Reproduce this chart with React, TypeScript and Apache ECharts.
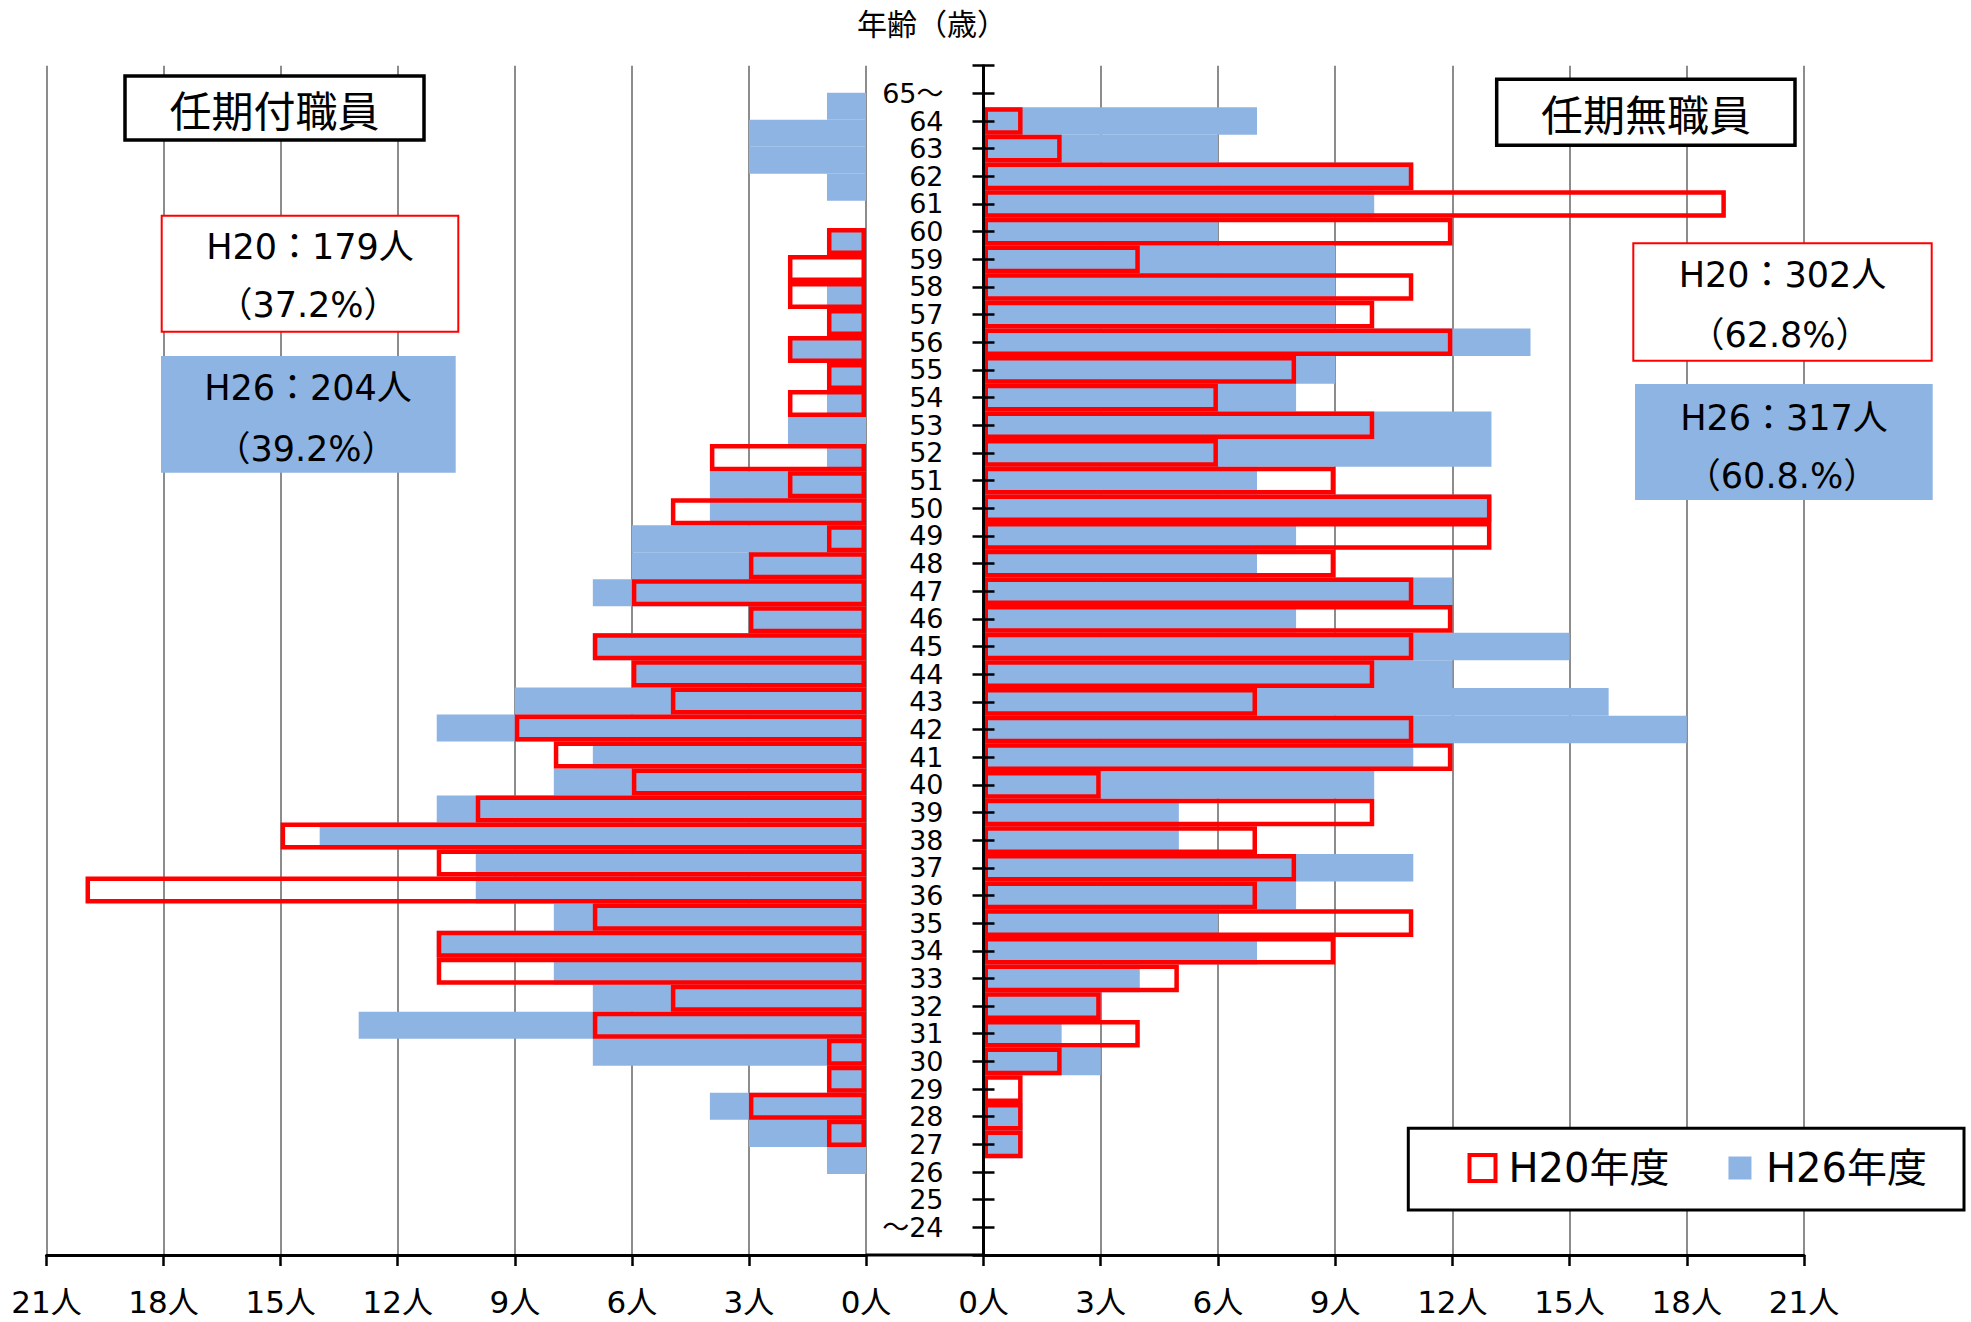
import React, { useEffect, useRef } from 'react';
import * as echarts from 'echarts';

const FONT = "'Noto Sans CJK JP', 'Noto Sans', sans-serif";
const NUM_FONT = "'DejaVu Sans', 'Noto Sans CJK JP', sans-serif";

// Age categories, bottom to top
const AGE_LABELS = ['～24', '25', '26', '27', '28', '29', '30', '31', '32', '33', '34', '35', '36', '37', '38', '39', '40', '41', '42', '43', '44', '45', '46', '47', '48', '49', '50', '51', '52', '53', '54', '55', '56', '57', '58', '59', '60', '61', '62', '63', '64', '65～'];

// 任期付職員 (left panel)
const LEFT_H26 = [0, 0, 1, 3, 4, 1, 7, 13, 7, 8, 11, 8, 10, 10, 14, 11, 8, 7, 11, 9, 6, 7, 3, 7, 6, 6, 4, 4, 1, 2, 1, 1, 2, 1, 1, 0, 1, 0, 1, 3, 3, 1];
const LEFT_H20 = [0, 0, 0, 1, 3, 1, 1, 7, 5, 11, 11, 7, 20, 11, 15, 10, 6, 8, 9, 5, 6, 7, 3, 6, 3, 1, 5, 2, 4, 0, 2, 1, 2, 1, 2, 2, 1, 0, 0, 0, 0, 0];

// 任期無職員 (right panel)
const RIGHT_H26 = [0, 0, 0, 1, 1, 0, 3, 2, 3, 4, 7, 6, 8, 11, 5, 5, 10, 11, 18, 16, 12, 15, 8, 12, 7, 8, 13, 7, 13, 13, 8, 9, 14, 9, 9, 9, 6, 10, 11, 6, 7, 0];
const RIGHT_H20 = [0, 0, 0, 1, 1, 1, 2, 4, 3, 5, 9, 11, 7, 8, 7, 10, 3, 12, 11, 7, 10, 11, 12, 11, 9, 13, 13, 9, 6, 10, 6, 8, 12, 10, 11, 4, 12, 19, 11, 2, 1, 0];

const X_TICKS = { min: 0, max: 21, interval: 3 };
const SERIES_NAMES = ['H20年度', 'H26年度'];
const TITLE = '年齢（歳）';
const PANEL_LEFT = '任期付職員';
const PANEL_RIGHT = '任期無職員';
const LEFT_NOTES = ['H20：179人', '（37.2%）', 'H26：204人', '（39.2%）'];
const RIGHT_NOTES = ['H20：302人', '（62.8%）', 'H26：317人', '（60.8.%）'];

const CATS = ['', ...AGE_LABELS, ''];
const pad = (arr: number[]) => [null, ...arr.map((v) => (v === 0 ? null : v)), null];

const BLUE = '#8EB4E3';
const RED = '#FF0000';

function xAxisCfg(gridIndex: number, inverse: boolean) {
  return {
    gridIndex,
    type: 'value',
    inverse,
    ...X_TICKS,
    axisLine: { show: true, onZero: false, lineStyle: { color: '#000', width: 3 } },
    axisTick: { show: true, length: 11, lineStyle: { color: '#000', width: 2.5 } },
    axisLabel: { formatter: '{value}人', fontSize: 31, color: '#000', fontFamily: NUM_FONT, margin: 31 },
    splitLine: { show: true, lineStyle: { color: '#8c8c8c', width: 2 } },
  };
}

function textEl(text: string, x: number, y: number, size: number, family = NUM_FONT) {
  return {
    type: 'text',
    z: 11,
    x,
    y,
    style: { text, fill: '#000', fontSize: size, fontFamily: family, align: 'center', verticalAlign: 'middle' },
  };
}

function rectEl(x: number, y: number, w: number, h: number, style: any) {
  return { type: 'rect', z: 10, shape: { x, y, width: w, height: h }, style };
}

export default function App() {
  const ref = useRef<HTMLDivElement>(null);
  useEffect(() => {
    document.body.style.margin = '0';
    const chart = echarts.init(ref.current!, null, { renderer: 'svg' });
    const barBase = { type: 'bar', barCategoryGap: '0%', barGap: '-100%' };
    chart.setOption({
      animation: false,
      title: {
        text: TITLE,
        left: 927,
        top: 2,
        textAlign: 'center',
        textStyle: { fontSize: 30, fontWeight: 'normal', color: '#000', fontFamily: FONT },
      },
      legend: {
        z: 20,
        data: [
          { name: SERIES_NAMES[0], itemStyle: { color: 'transparent', borderColor: RED, borderWidth: 4 } },
          { name: SERIES_NAMES[1], itemStyle: { color: BLUE, borderColor: '#fff', borderWidth: 3 } },
        ],
        icon: 'rect',
        left: 1467.5,
        top: 1148,
        itemWidth: 26,
        itemHeight: 26,
        itemGap: 56,
        padding: 0,
        textStyle: { fontSize: 40, color: '#000', fontFamily: NUM_FONT, padding: [0, 0, 0, 8] },
      },
      grid: [
        { left: 46.5, top: 65.7, width: 819.5, height: 1189.3 },
        { left: 983.5, top: 65.7, width: 820.5, height: 1189.3 },
      ],
      xAxis: [xAxisCfg(0, true), xAxisCfg(1, false)],
      yAxis: [
        {
          gridIndex: 0,
          type: 'category',
          data: CATS,
          boundaryGap: true,
          axisLine: { show: false },
          axisTick: { show: false },
          axisLabel: { show: false },
          splitLine: { show: false },
        },
        {
          gridIndex: 1,
          type: 'category',
          data: CATS,
          boundaryGap: false,
          position: 'left',
          z: 5,
          axisLine: { show: true, onZero: false, lineStyle: { color: '#000', width: 3 } },
          axisTick: { show: true, interval: 0, length: 11, lineStyle: { color: '#000', width: 2.5 } },
          axisLabel: { interval: 0, fontSize: 27, lineHeight: 27, color: '#000', margin: 40, fontFamily: NUM_FONT },
          splitLine: { show: false },
        },
        {
          gridIndex: 1,
          type: 'category',
          data: CATS,
          boundaryGap: false,
          position: 'left',
          z: 5,
          axisLine: { show: false },
          axisTick: { show: true, inside: true, interval: 0, length: 11, lineStyle: { color: '#000', width: 2.5 } },
          axisLabel: { show: false },
          splitLine: { show: false },
        },
      ],
      series: [
        { ...barBase, name: SERIES_NAMES[1], xAxisIndex: 0, yAxisIndex: 0, data: pad(LEFT_H26), itemStyle: { color: BLUE } },
        { ...barBase, name: SERIES_NAMES[0], xAxisIndex: 0, yAxisIndex: 0, data: pad(LEFT_H20), itemStyle: { color: 'transparent', borderColor: RED, borderWidth: 4.5 } },
        { ...barBase, name: SERIES_NAMES[1], xAxisIndex: 1, yAxisIndex: 1, data: pad(RIGHT_H26), itemStyle: { color: BLUE } },
        { ...barBase, name: SERIES_NAMES[0], xAxisIndex: 1, yAxisIndex: 1, data: pad(RIGHT_H20), itemStyle: { color: 'transparent', borderColor: RED, borderWidth: 4.5 } },
      ],
      graphic: [
        { type: 'line', z: 5, shape: { x1: 866, y1: 1255, x2: 984, y2: 1255 }, style: { stroke: '#000', lineWidth: 3 } },
        rectEl(125, 76, 299, 64, { fill: '#fff', stroke: '#000', lineWidth: 3.5 }),
        textEl(PANEL_LEFT, 274.5, 108, 42, FONT),
        rectEl(161.7, 215.7, 296.6, 116, { fill: '#fff', stroke: RED, lineWidth: 2 }),
        textEl(LEFT_NOTES[0], 310, 247, 35),
        textEl(LEFT_NOTES[1], 308, 305, 35),
        rectEl(161, 356, 294.7, 116.7, { fill: BLUE }),
        textEl(LEFT_NOTES[2], 308, 388, 35),
        textEl(LEFT_NOTES[3], 306, 449, 35),
        rectEl(1496.7, 79.3, 298.3, 66, { fill: '#fff', stroke: '#000', lineWidth: 3.5 }),
        textEl(PANEL_RIGHT, 1646, 112, 42, FONT),
        rectEl(1633.3, 243.3, 298.4, 117.4, { fill: '#fff', stroke: RED, lineWidth: 2 }),
        textEl(RIGHT_NOTES[0], 1782.5, 275, 35),
        textEl(RIGHT_NOTES[1], 1780, 335, 35),
        rectEl(1635, 384, 297.7, 116, { fill: BLUE }),
        textEl(RIGHT_NOTES[2], 1784, 417.5, 35),
        textEl(RIGHT_NOTES[3], 1782, 476, 35),
        rectEl(1408.3, 1128.3, 555.7, 81.7, { fill: '#fff', stroke: '#000', lineWidth: 3 }),
      ],
    });
    return () => chart.dispose();
  }, []);
  return <div ref={ref} style={{ width: 1971, height: 1322, overflow: 'hidden' }} />;
}
